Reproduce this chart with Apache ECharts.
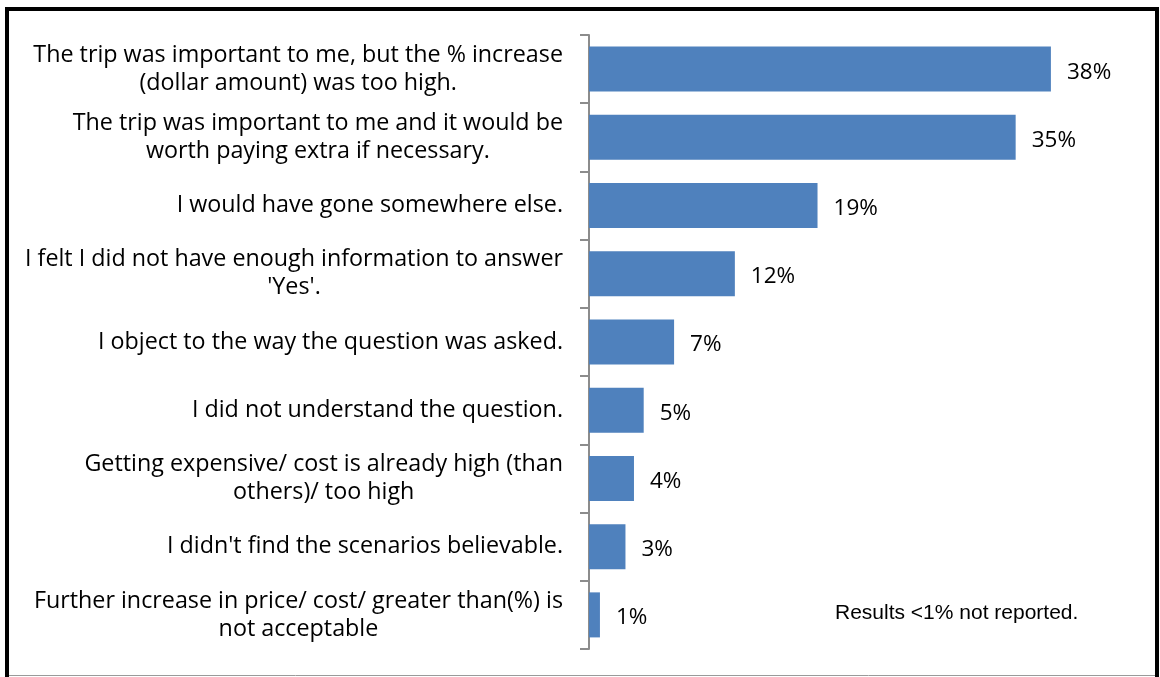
<!DOCTYPE html>
<html>
<head>
<meta charset="utf-8">
<script src="https://cdn.jsdelivr.net/npm/echarts@6/dist/echarts.min.js"></script>
<style>
html,body{margin:0;padding:0;background:#fff;}
#c{width:1160px;height:677px;}
</style>
</head>
<body>
<div id="c"></div>
<script>
const categories = [
  "The trip was important to me, but the % increase\n(dollar amount) was too high.",
  "The trip was important to me and it would be\nworth paying extra if necessary.",
  "I would have gone somewhere else.",
  "I felt I did not have enough information to answer\n'Yes'.",
  "I object to the way the question was asked.",
  "I did not understand the question.",
  "Getting expensive/ cost is already high (than\nothers)/ too high",
  "I didn't find the scenarios believable.",
  "Further increase in price/ cost/ greater than(%) is\nnot acceptable"
];
const values = [38, 35.1, 18.8, 12, 7, 4.5, 3.7, 3, 0.9];
const noteText = "Results <1% not reported.";

const chart = echarts.init(document.getElementById('c'), null, {renderer: 'canvas'});
const font = "'Open Sans', 'Noto Sans', sans-serif";
const fs = 23.3;
chart.setOption({
  animation: false,
  backgroundColor: '#ffffff',
  grid: {left: 589, right: 24, top: 35, bottom: 28, containLabel: false},
  xAxis: {
    type: 'value', min: 0, max: 45,
    show: false
  },
  yAxis: {
    type: 'category', data: categories, inverse: true,
    axisLine: {show: true, lineStyle: {color: '#8c8c8c', width: 2}},
    axisTick: {show: true, length: 9, lineStyle: {color: '#8c8c8c', width: 2}},
    axisLabel: {
      margin: 26, color: '#000', fontSize: fs, fontFamily: font,
      lineHeight: 28, align: 'right',
      formatter: v => v.split('\n').map(s => '{c|' + s + '}').join('\n'),
      rich: {c: {align: 'center', fontSize: fs, fontFamily: font, lineHeight: 28, color: '#000'}}
    }
  },
  series: [{
    type: 'bar', data: values, barCategoryGap: '34%',
    itemStyle: {color: '#4F81BD'},
    label: {
      show: true, position: 'right', distance: 16, offset: [0, 3],
      color: '#000', fontSize: 22.5, fontFamily: font,
      formatter: p => Math.round(p.value) + '%'
    }
  }],
  graphic: [
    {type: 'rect', shape: {x: 7, y: 9, width: 1150, height: 672},
     style: {fill: 'none', stroke: '#000', lineWidth: 4}, silent: true},
    {type: 'line', shape: {x1: 9, y1: 675.5, x2: 1155, y2: 675.5},
     style: {stroke: '#9a9a9a', lineWidth: 1}, silent: true},
    {type: 'text', left: 835, top: 603,
     style: {text: noteText, fill: '#000', font: "21px 'Liberation Sans', Arial, sans-serif"}}
  ]
});
</script>
</body>
</html>
